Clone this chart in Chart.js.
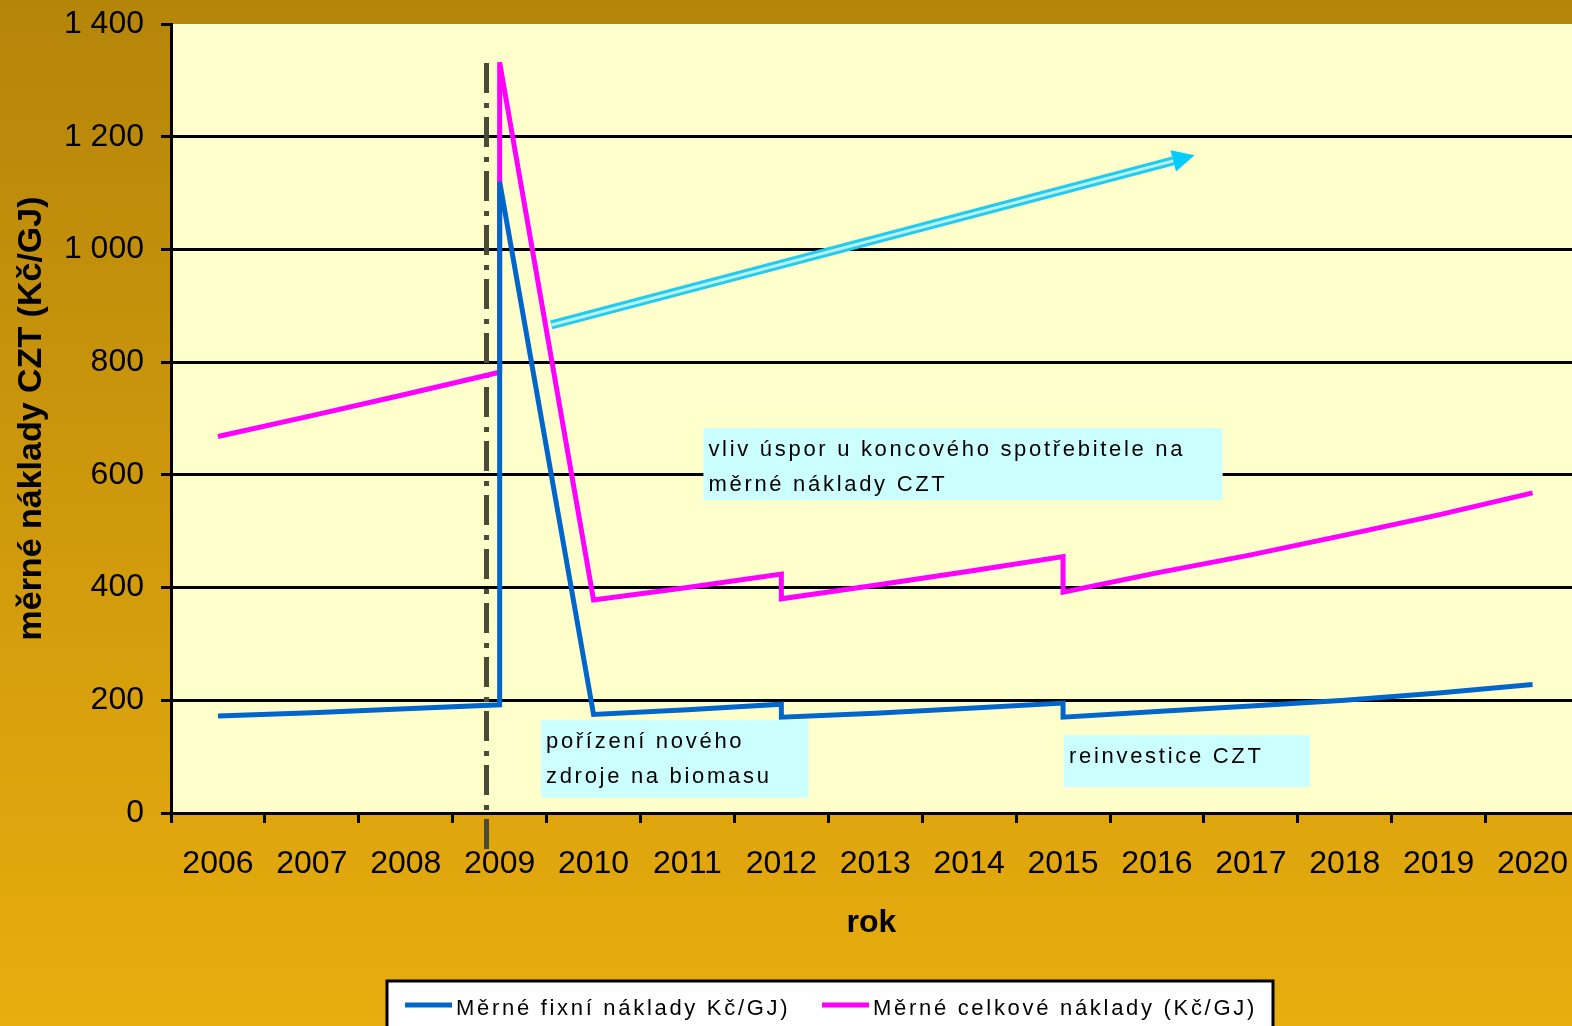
<!DOCTYPE html>
<html>
<head>
<meta charset="utf-8">
<script src="https://cdn.jsdelivr.net/npm/chart.js"></script>
<style>
  html, body { margin: 0; padding: 0; background: #D9A00C; }
  #wrap { width: 1572px; height: 1026px; }
</style>
</head>
<body>
<div id="wrap"><canvas id="costChart" width="1572" height="1026"></canvas></div>
<script>
// x position of every point (2009, 2012 and 2015 are listed twice: the jumps)
const pointYears = [2006, 2007, 2008, 2009, 2009, 2010, 2011, 2012, 2012, 2013, 2014, 2015, 2015, 2016, 2017, 2018, 2019, 2020];
// Měrné fixní náklady (Kč/GJ)
const fixedCosts = [172, 178, 185, 192, 1120, 175, 183, 193, 170, 177, 186, 195, 170, 180, 190, 200, 213, 228];
// Měrné celkové náklady (Kč/GJ)
const totalCosts = [668, 705, 743, 782, 1332, 378, 400, 424, 380, 404, 429, 455, 392, 426, 458, 493, 529, 568];

// axis labels
const yearLabels = [2006, 2007, 2008, 2009, 2010, 2011, 2012, 2013, 2014, 2015, 2016, 2017, 2018, 2019, 2020];
const yTicks = [0, 200, 400, 600, 800, 1000, 1200, 1400];

const seriesNames = ['Měrné fixní náklady Kč/GJ)', 'Měrné celkové náklady (Kč/GJ)'];

// text boxes and marks, placed in data units
const notes = [
    { lines: ['vliv úspor u koncového spotřebitele na', 'měrné náklady CZT'], x0: 2011.17, x1: 2016.7, y0: 683, y1: 555 },
    { lines: ['pořízení nového', 'zdroje na biomasu'], x0: 2009.44, x1: 2012.29, y0: 165, y1: 27 },
    { lines: ['reinvestice CZT'], x0: 2015.01, x1: 2017.63, y0: 138, y1: 46 }
];
const savingsArrow = { from: [2009.55, 866], to: [2016.4, 1167] };
const markerYear = 2008.86;
const markerTop = 1331;

const FONT = "'Liberation Sans', Arial, sans-serif";

function pairs(values) {
    return values.map((v, i) => ({ x: pointYears[i], y: v }));
}

function formatThousands(v) {
    return String(v).replace(/\B(?=(\d{3})+(?!\d))/g, ' ');
}

// background: golden gradient + pale yellow plot area
const backdrop = {
    id: 'backdrop',
    beforeDraw(chart) {
        const { ctx, width, height, chartArea } = chart;
        ctx.save();
        const g = ctx.createLinearGradient(0, 0, 0, height);
        g.addColorStop(0, '#B5850A');
        g.addColorStop(1, '#E8AD0E');
        ctx.fillStyle = g;
        ctx.fillRect(0, 0, width, height);
        ctx.fillStyle = '#FFFFCC';
        ctx.fillRect(chartArea.left, chartArea.top, chartArea.right - chartArea.left, chartArea.bottom - chartArea.top);
        ctx.restore();
    }
};

// dash-dot line marking the investment year
const markerLine = {
    id: 'markerLine',
    beforeDatasetsDraw(chart) {
        const { ctx, scales } = chart;
        const x = scales.x.getPixelForValue(markerYear);
        ctx.save();
        ctx.strokeStyle = '#4A4A38';
        ctx.lineWidth = 5;
        ctx.setLineDash([30, 10, 5, 9]);
        ctx.beginPath();
        ctx.moveTo(x, scales.y.getPixelForValue(markerTop));
        ctx.lineTo(x, scales.y.getPixelForValue(0) + 36);
        ctx.stroke();
        ctx.restore();
    }
};

// hatched cyan arrow + text boxes + legend
const overlays = {
    id: 'overlays',
    afterDraw(chart) {
        const { ctx, scales } = chart;
        const px = v => scales.x.getPixelForValue(v);
        const py = v => scales.y.getPixelForValue(v);

        // arrow
        const x1 = px(savingsArrow.from[0]), y1 = py(savingsArrow.from[1]);
        const x2 = px(savingsArrow.to[0]), y2 = py(savingsArrow.to[1]);
        const ang = Math.atan2(y2 - y1, x2 - x1);
        const headLen = 22;
        const bx = x2 - headLen * Math.cos(ang), by = y2 - headLen * Math.sin(ang);
        ctx.save();
        ctx.lineCap = 'butt';
        ctx.strokeStyle = '#22CCF0';
        ctx.lineWidth = 9;
        ctx.beginPath(); ctx.moveTo(x1, y1); ctx.lineTo(bx, by); ctx.stroke();
        ctx.strokeStyle = '#B8F0EC';
        ctx.lineWidth = 3;
        ctx.beginPath(); ctx.moveTo(x1, y1); ctx.lineTo(bx, by); ctx.stroke();
        ctx.fillStyle = '#00CCFF';
        ctx.beginPath();
        ctx.moveTo(x2, y2);
        ctx.lineTo(bx + 11 * Math.sin(ang), by - 11 * Math.cos(ang));
        ctx.lineTo(bx - 11 * Math.sin(ang), by + 11 * Math.cos(ang));
        ctx.closePath();
        ctx.fill();
        ctx.restore();

        // text boxes
        ctx.save();
        ctx.font = '22px ' + FONT;
        ctx.letterSpacing = '2.7px';
        ctx.textBaseline = 'alphabetic';
        ctx.textAlign = 'left';
        notes.forEach(n => {
            const l = px(n.x0), r = px(n.x1), t = py(n.y0), b = py(n.y1);
            ctx.fillStyle = '#CCFFFF';
            ctx.fillRect(l, t, r - l, b - t);
            ctx.fillStyle = '#000';
            n.lines.forEach((line, i) => ctx.fillText(line, l + 5, t + 28 + i * 35));
        });
        ctx.restore();

        // legend box at the bottom
        ctx.save();
        ctx.fillStyle = '#FFFFFF';
        ctx.fillRect(387, 981, 886, 60);
        ctx.strokeStyle = '#000';
        ctx.lineWidth = 3;
        ctx.strokeRect(387, 981, 886, 60);
        ctx.font = '22px ' + FONT;
        ctx.letterSpacing = '2.7px';
        ctx.textBaseline = 'alphabetic';
        const starts = [405, 822];
        chart.data.datasets.forEach((ds, i) => {
            const sx = starts[i];
            ctx.strokeStyle = ds.borderColor;
            ctx.lineWidth = 5;
            ctx.beginPath(); ctx.moveTo(sx, 1005); ctx.lineTo(sx + 47, 1005); ctx.stroke();
            ctx.fillStyle = '#000';
            ctx.fillText(ds.label, sx + 51, 1015);
        });
        ctx.restore();
    }
};

const xTickValues = [];
yearLabels.forEach(y => { xTickValues.push(y - 0.5); xTickValues.push(y); });

new Chart(document.getElementById('costChart'), {
    type: 'line',
    data: {
        datasets: [
            {
                label: seriesNames[0],
                data: pairs(fixedCosts),
                borderColor: '#0066CC',
                borderWidth: 5,
                pointRadius: 0,
                tension: 0
            },
            {
                label: seriesNames[1],
                data: pairs(totalCosts),
                borderColor: '#FF00FF',
                borderWidth: 5,
                pointRadius: 0,
                tension: 0
            }
        ]
    },
    options: {
        responsive: false,
        animation: false,
        layout: { padding: { top: 24, left: 0, right: 0, bottom: 0 } },
        plugins: {
            legend: { display: false },
            tooltip: { enabled: false }
        },
        scales: {
            x: {
                type: 'linear',
                min: yearLabels[0] - 0.5,
                max: 2020.42,
                bounds: 'data',
                afterBuildTicks: scale => {
                    scale.ticks = xTickValues.map(v => ({ value: v }));
                },
                afterFit: scale => {
                    scale.height = 213;
                    scale.paddingLeft = 0;
                    scale.paddingRight = 0;
                },
                border: { display: true, color: '#000', width: 3 },
                grid: {
                    drawOnChartArea: false,
                    drawTicks: true,
                    tickLength: 10,
                    tickWidth: 3,
                    tickColor: ctx => (ctx.tick && ctx.tick.value % 1 !== 0) ? '#000' : 'rgba(0,0,0,0)'
                },
                ticks: {
                    autoSkip: false,
                    maxRotation: 0,
                    padding: 22,
                    color: '#000',
                    font: { family: FONT, size: 32 },
                    callback: v => (v % 1 === 0 ? String(v) : '')
                },
                title: {
                    display: true,
                    text: 'rok',
                    color: '#000',
                    font: { family: FONT, size: 32, weight: 'bold' },
                    padding: { top: 0, bottom: 84 }
                }
            },
            y: {
                min: yTicks[0],
                max: yTicks[yTicks.length - 1],
                afterBuildTicks: scale => {
                    scale.ticks = yTicks.map(v => ({ value: v }));
                },
                afterFit: scale => {
                    scale.width = 171;
                    scale.paddingTop = 0;
                    scale.paddingBottom = 0;
                },
                border: { display: true, color: '#000', width: 3 },
                grid: {
                    color: ctx => (ctx.tick && ctx.tick.value === 1400) ? 'rgba(0,0,0,0)' : '#000',
                    lineWidth: 3,
                    tickColor: '#000',
                    tickLength: 10
                },
                ticks: {
                    padding: 17,
                    color: '#000',
                    font: { family: FONT, size: 32 },
                    callback: v => formatThousands(v)
                },
                title: {
                    display: true,
                    text: 'měrné náklady CZT (Kč/GJ)',
                    color: '#000',
                    font: { family: FONT, size: 34, weight: 'bold' },
                    padding: { top: 11, bottom: 0 }
                }
            }
        }
    },
    plugins: [backdrop, markerLine, overlays]
});
</script>
</body>
</html>
